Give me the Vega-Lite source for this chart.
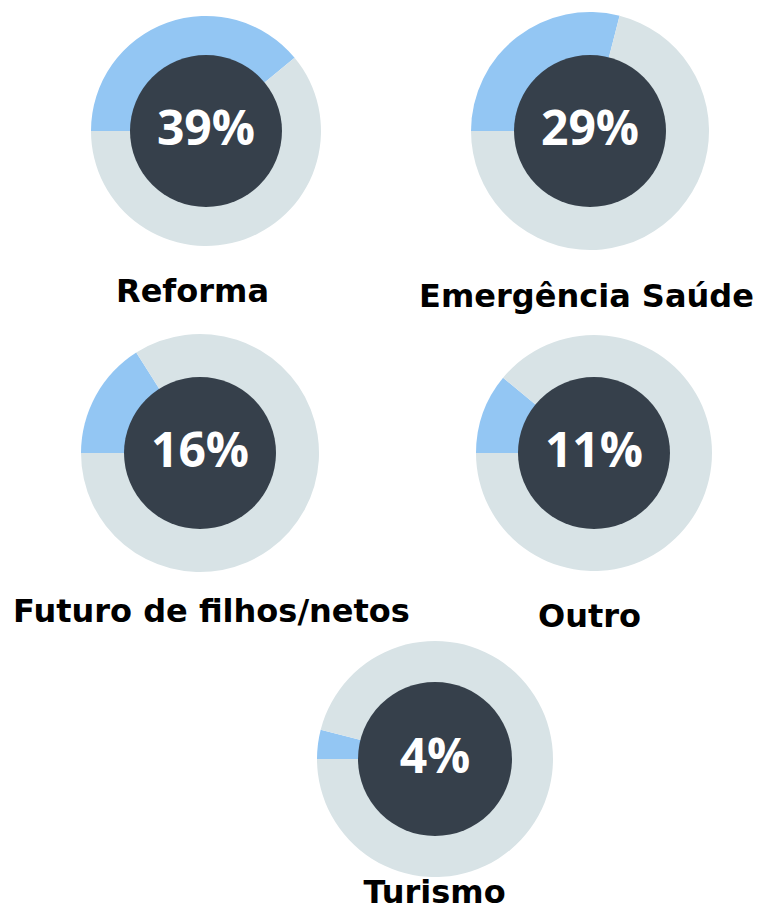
{
  "$schema": "https://vega.github.io/schema/vega-lite/v6.json",
  "padding": {"left": 12, "top": 11, "right": 0, "bottom": 0},
  "background": "white",
  "config": {
    "view": {"stroke": null},
    "axisX": {"domain": false, "ticks": false, "grid": false, "labelFont": "DejaVu Sans", "labelFontSize": 32, "labelFontWeight": "bold", "labelColor": "#000000", "labelAngle": 0, "labelLimit": 0, "labelOverlap": false, "labelFlush": false, "labelBaseline": "top"}
  },
  "data": {
    "values": [
      {"categoria": "Reforma", "parte": "Sim", "valor": 0.39},
      {"categoria": "Reforma", "parte": "Resto", "valor": 0.61},
      {"categoria": "Emergência Saúde", "parte": "Sim", "valor": 0.29},
      {"categoria": "Emergência Saúde", "parte": "Resto", "valor": 0.71},
      {"categoria": "Futuro de filhos/netos", "parte": "Sim", "valor": 0.16},
      {"categoria": "Futuro de filhos/netos", "parte": "Resto", "valor": 0.84},
      {"categoria": "Outro", "parte": "Sim", "valor": 0.11},
      {"categoria": "Outro", "parte": "Resto", "valor": 0.89},
      {"categoria": "Turismo", "parte": "Sim", "valor": 0.04},
      {"categoria": "Turismo", "parte": "Resto", "valor": 0.96}
    ]
  },
  "bounds": "flush",
  "spacing": 82,
  "vconcat": [
    {
      "width": 494, "height": 240,
      "transform": [{"filter": "datum.categoria === 'Reforma' || datum.categoria === 'Emergência Saúde'"}],
      "encoding": {
        "x": {"field": "categoria", "type": "nominal", "title": null,
              "scale": {"type": "point", "domain": ["Reforma", "Emergência Saúde"], "padding": 0.1432},
              "axis": {"labelPadding": {"condition": {"test": "datum.value === 'Reforma'", "value": 25}, "value": 30},
                       "labelOffset": {"condition": {"test": "datum.value === 'Reforma'", "value": -14}, "value": -4}}}
      },
      "layer": [
        {"transform": [{"filter": "datum.categoria === 'Reforma'"}],
         "mark": {"type": "arc", "radius": 115},
         "encoding": {
           "theta": {"field": "valor", "type": "quantitative", "stack": true, "scale": {"range": [4.712389, 10.995574]}},
           "color": {"field": "parte", "type": "nominal", "scale": {"domain": ["Sim", "Resto"], "range": ["#93C6F3", "#D8E3E6"]}, "legend": null},
           "order": {"field": "parte", "sort": "descending"}
         }},
        {"transform": [{"filter": "datum.categoria === 'Emergência Saúde'"}],
         "mark": {"type": "arc", "radius": 119},
         "encoding": {
           "theta": {"field": "valor", "type": "quantitative", "stack": true, "scale": {"range": [4.712389, 10.995574]}},
           "color": {"field": "parte", "type": "nominal", "scale": {"domain": ["Sim", "Resto"], "range": ["#93C6F3", "#D8E3E6"]}, "legend": null},
           "order": {"field": "parte", "sort": "descending"}
         }},
        {"transform": [{"filter": "datum.parte === 'Sim'"}],
         "mark": {"type": "arc", "radius": 76, "theta": 0, "theta2": 6.2832, "color": "#36404B"}},
        {"transform": [{"filter": "datum.parte === 'Sim'"}],
         "mark": {"type": "text", "font": "Open Sans", "fontSize": 48, "fontWeight": "bold", "color": "#FFFFFF", "baseline": "middle", "align": "center"},
         "encoding": {"text": {"field": "valor", "type": "quantitative", "format": ".0%"}}}
      ]
    },
    {
      "width": 492, "height": 240,
      "transform": [{"filter": "datum.categoria === 'Futuro de filhos/netos' || datum.categoria === 'Outro'"}],
      "encoding": {
        "x": {"field": "categoria", "type": "nominal", "title": null,
              "scale": {"type": "point", "domain": ["Futuro de filhos/netos", "Outro"], "padding": 0.1244},
              "axis": {"labelPadding": {"condition": {"test": "datum.value === 'Outro'", "value": 28}, "value": 23},
                       "labelOffset": {"condition": {"test": "datum.value === 'Outro'", "value": -5}, "value": 11}}}
      },
      "layer": [
        {"transform": [{"filter": "datum.categoria === 'Futuro de filhos/netos'"}],
         "mark": {"type": "arc", "radius": 119},
         "encoding": {
           "theta": {"field": "valor", "type": "quantitative", "stack": true, "scale": {"range": [4.712389, 10.995574]}},
           "color": {"field": "parte", "type": "nominal", "scale": {"domain": ["Sim", "Resto"], "range": ["#93C6F3", "#D8E3E6"]}, "legend": null},
           "order": {"field": "parte", "sort": "descending"}
         }},
        {"transform": [{"filter": "datum.categoria === 'Outro'"}],
         "mark": {"type": "arc", "radius": 118},
         "encoding": {
           "theta": {"field": "valor", "type": "quantitative", "stack": true, "scale": {"range": [4.712389, 10.995574]}},
           "color": {"field": "parte", "type": "nominal", "scale": {"domain": ["Sim", "Resto"], "range": ["#93C6F3", "#D8E3E6"]}, "legend": null},
           "order": {"field": "parte", "sort": "descending"}
         }},
        {"transform": [{"filter": "datum.parte === 'Sim'"}],
         "mark": {"type": "arc", "radius": 76, "theta": 0, "theta2": 6.2832, "color": "#36404B"}},
        {"transform": [{"filter": "datum.parte === 'Sim'"}],
         "mark": {"type": "text", "font": "Open Sans", "fontSize": 48, "fontWeight": "bold", "color": "#FFFFFF", "baseline": "middle", "align": "center"},
         "encoding": {"text": {"field": "valor", "type": "quantitative", "format": ".0%"}}}
      ]
    },
    {
      "width": 568, "height": 208,
      "transform": [{"filter": "datum.categoria === 'Turismo'"}],
      "encoding": {
        "x": {"field": "categoria", "type": "nominal", "title": null,
              "scale": {"type": "point", "domain": ["Turismo"]},
              "axis": {"labelPadding": 14, "labelOffset": -1}}
      },
      "layer": [
        {"mark": {"type": "arc", "radius": 118},
         "encoding": {
           "theta": {"field": "valor", "type": "quantitative", "stack": true, "scale": {"range": [4.712389, 10.995574]}},
           "color": {"field": "parte", "type": "nominal", "scale": {"domain": ["Sim", "Resto"], "range": ["#93C6F3", "#D8E3E6"]}, "legend": null},
           "order": {"field": "parte", "sort": "descending"}
         }},
        {"transform": [{"filter": "datum.parte === 'Sim'"}],
         "mark": {"type": "arc", "radius": 77, "theta": 0, "theta2": 6.2832, "color": "#36404B"}},
        {"transform": [{"filter": "datum.parte === 'Sim'"}],
         "mark": {"type": "text", "font": "Open Sans", "fontSize": 48, "fontWeight": "bold", "color": "#FFFFFF", "baseline": "middle", "align": "center"},
         "encoding": {"text": {"field": "valor", "type": "quantitative", "format": ".0%"}}}
      ]
    }
  ]
}
